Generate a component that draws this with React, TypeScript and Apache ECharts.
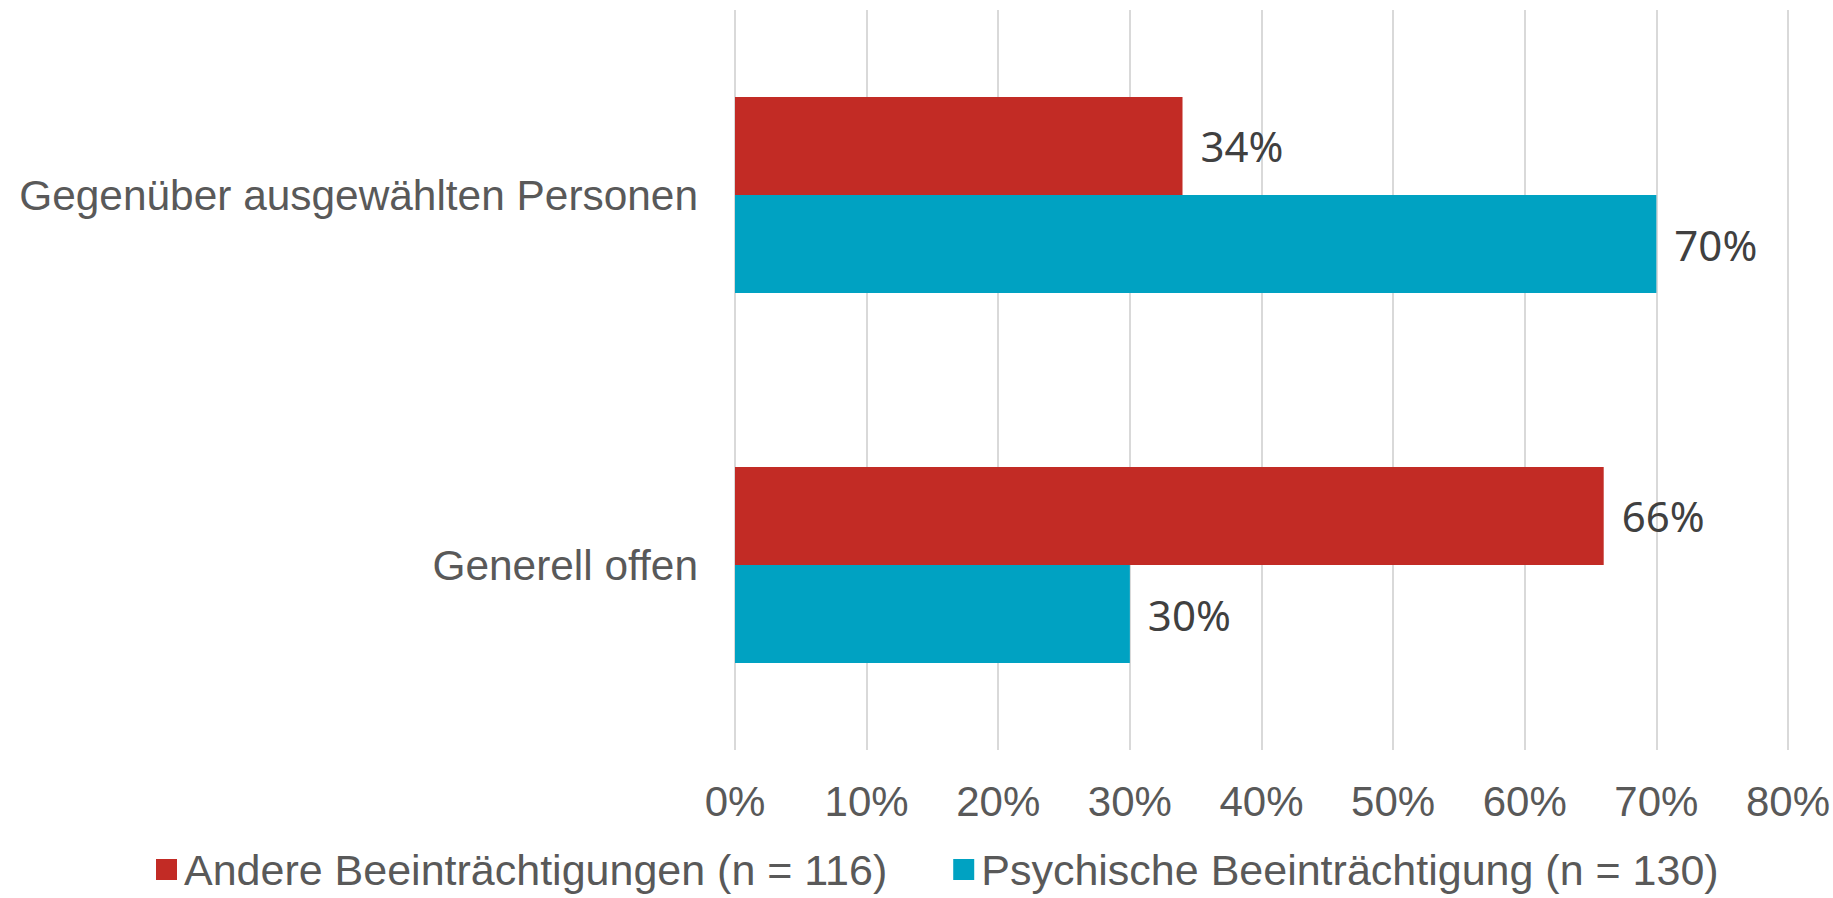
import React, { useEffect, useRef } from "react";
import * as echarts from "echarts";

const categories = ["Generell offen", "Gegenüber ausgewählten Personen"];
const seriesNames = [
  "Andere Beeinträchtigungen (n = 116)",
  "Psychische Beeinträchtigung (n = 130)",
];
const andereValues = [66, 34];
const psychischeValues = [30, 70];
const colors = ["#C22B25", "#00A2C2"];
const axisMin = 0;
const axisMax = 80;
const axisInterval = 10;

export default function App() {
  const ref = useRef<HTMLDivElement>(null);
  useEffect(() => {
    if (!ref.current) return;
    const chart = echarts.init(ref.current, undefined, { renderer: "svg" });
    const labelStyle = {
      show: true,
      position: "right" as const,
      distance: 18,
      formatter: "{c}%",
      fontSize: 42,
      color: "#404040",
      fontFamily: "Noto Sans",
    };
    chart.setOption({
      animation: false,
      backgroundColor: "#ffffff",
      textStyle: { fontFamily: "Liberation Sans" },
      grid: { left: 735, right: 45, top: 10, bottom: 148, containLabel: false },
      legend: {
        data: seriesNames,
        left: 151,
        top: 843,
        icon: "rect",
        itemWidth: 21,
        itemHeight: 21,
        itemGap: 66,
        textStyle: { fontSize: 43, color: "#595959", fontFamily: "Liberation Sans", padding: [0, 0, 0, 2] },
      },
      xAxis: {
        type: "value",
        min: axisMin,
        max: axisMax,
        interval: axisInterval,
        axisLine: { show: false },
        axisTick: { show: false },
        splitLine: { show: true, lineStyle: { color: "#D9D9D9", width: 2 } },
        axisLabel: {
          formatter: "{value}%",
          fontSize: 42,
          color: "#595959",
          margin: 30,
          fontFamily: "Liberation Sans",
        },
      },
      yAxis: {
        type: "category",
        data: categories,
        axisLine: { show: false },
        axisTick: { show: false },
        axisLabel: {
          fontSize: 42.4,
          color: "#595959",
          margin: 37,
          fontFamily: "Liberation Sans",
        },
      },
      series: [
        {
          name: seriesNames[0],
          type: "bar",
          data: andereValues,
          itemStyle: { color: colors[0] },
          barGap: "0%",
          barCategoryGap: "47%",
          label: labelStyle,
        },
        {
          name: seriesNames[1],
          type: "bar",
          data: psychischeValues,
          itemStyle: { color: colors[1] },
          barGap: "0%",
          barCategoryGap: "47%",
          label: labelStyle,
        },
      ],
    });
    return () => chart.dispose();
  }, []);
  return (
    <div
      ref={ref}
      style={{ position: "absolute", left: 0, top: 0, width: 1833, height: 898 }}
    />
  );
}
